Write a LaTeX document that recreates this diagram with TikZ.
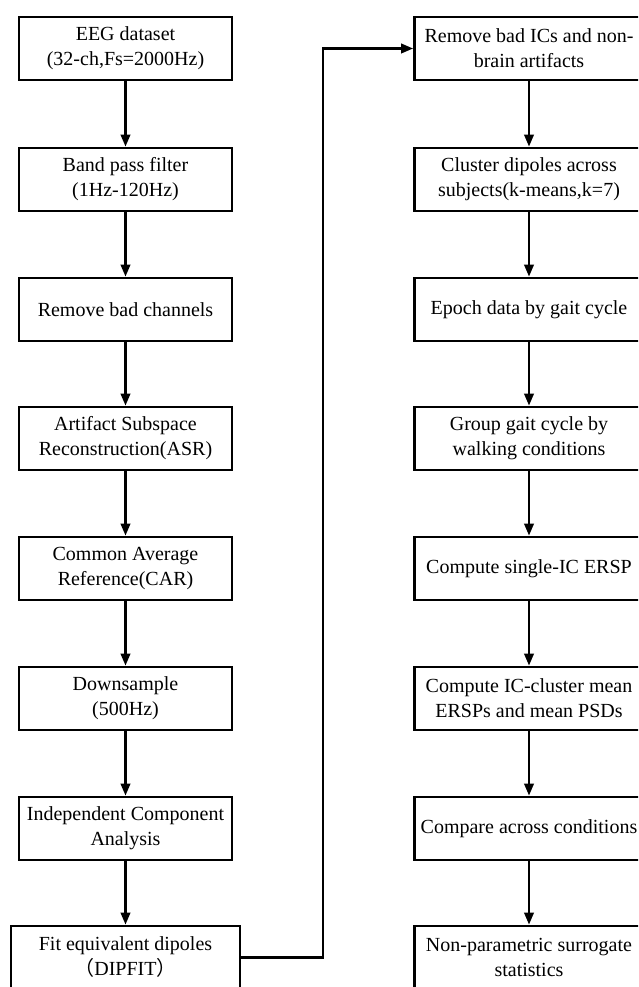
\documentclass[tikz,border=0pt]{standalone}
\usepackage{fontspec}
\setmainfont{Liberation Serif}
\newfontfamily\cjk{Noto Sans CJK SC}
\usetikzlibrary{arrows.meta}
\tikzset{
  stepbox/.style={draw=black, line width=2.8pt, fill=white, align=center,
    minimum width=213pt, minimum height=63pt, inner sep=0pt,
    font=\fontsize{20pt}{25pt}\selectfont},
  widebox/.style={stepbox, minimum width=229pt},
  arr/.style={draw=black, line width=2.3pt, -{Triangle[length=12pt,width=9.5pt]}}
}
\begin{document}
\begin{tikzpicture}[x=1pt,y=-1pt]
\useasboundingbox (0,0) rectangle (638,987);
\clip (0,0) rectangle (638,987);
\fill[white] (0,0) rectangle (638,987);
% left column
\node[stepbox] (l1) at (125.5,48.5) {EEG dataset\\(32-ch,Fs=2000Hz)};
\node[stepbox] (l2) at (125.5,179.5) {Band pass filter\\(1Hz-120Hz)};
\node[stepbox] (l3) at (125.5,309.5) {Remove bad channels};
\node[stepbox] (l4) at (125.5,438.5) {Artifact Subspace\\Reconstruction(ASR)};
\node[stepbox] (l5) at (125.5,568.5) {Common Average\\Reference(CAR)};
\node[stepbox] (l6) at (125.5,698.5) {Downsample\\(500Hz)};
\node[stepbox] (l7) at (125.5,828.5) {Independent Component\\Analysis};
\node[widebox] (l8) at (125.5,957.5) {Fit equivalent dipoles\\{\cjk （}DIPFIT{\cjk ）}};
% right column
\node[widebox] (r1) at (529,48.5) {Remove bad ICs and non-\\brain artifacts};
\node[widebox] (r2) at (529,179.5) {Cluster dipoles across\\subjects(k-means,k=7)};
\node[widebox] (r3) at (529,309.5) {Epoch data by gait cycle};
\node[widebox] (r4) at (529,438.5) {Group gait cycle by\\walking conditions};
\node[widebox] (r5) at (529,568.5) {Compute single-IC ERSP};
\node[widebox] (r6) at (529,698.5) {Compute IC-cluster mean\\ERSPs and mean PSDs};
\node[widebox] (r7) at (529,828.5) {Compare across conditions};
\node[widebox] (r8) at (529,957.5) {Non-parametric surrogate\\statistics};
% arrows
\foreach \a/\b in {l1/l2,l2/l3,l3/l4,l4/l5,l5/l6,l6/l7,l7/l8,r1/r2,r2/r3,r3/r4,r4/r5,r5/r6,r6/r7,r7/r8}
  \draw[arr] (\a.south) -- (\b.north);
\coordinate (jx) at (323,48.5);
\draw[arr] (l8.east) -| (jx) -- (r1.west);
\end{tikzpicture}
\end{document}
